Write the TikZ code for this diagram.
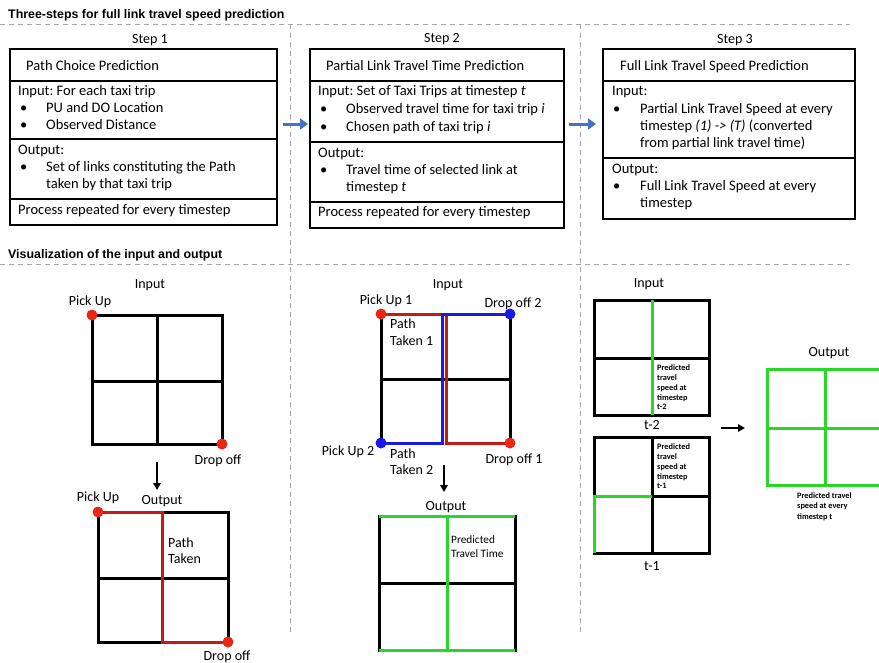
\documentclass[tikz,border=0pt]{standalone}
\usepackage{fontspec}
\setmainfont{Carlito}
\newfontfamily\headfont{Liberation Sans}
\usetikzlibrary{arrows.meta}
\frenchspacing

\definecolor{dotred}{RGB}{232,40,20}
\definecolor{pathred}{RGB}{200,25,25}
\definecolor{pathblue}{RGB}{25,25,225}
\definecolor{linkgreen}{RGB}{40,215,40}
\definecolor{flowblue}{RGB}{68,114,196}

\begin{document}
\begin{tikzpicture}[x=1pt, y=-1pt,
  txt/.style={anchor=base west, inner sep=0pt, font=\fontsize{14.5}{17}\selectfont},
  mid/.style={anchor=base, inner sep=0pt, font=\fontsize{14}{17}\selectfont},
  lbl/.style={anchor=base west, inner sep=0pt, font=\fontsize{14}{17}\selectfont},
  head/.style={anchor=base west, inner sep=0pt, font=\headfont\bfseries\fontsize{12.4}{15}\selectfont},
  tiny/.style={anchor=base west, inner sep=0pt, font=\bfseries\fontsize{8.3}{10}\selectfont},
  small/.style={anchor=base west, inner sep=0pt, font=\fontsize{11.3}{13}\selectfont},
  sep/.style={gray!70, line width=1pt, dash pattern=on 5pt off 4pt},
  box/.style={draw, line width=1.8pt},
  grid/.style={line width=3pt, line cap=rect},
  dot/.style={circle, fill, inner sep=0pt, minimum size=11pt},
  flow/.style={flowblue, line width=3pt, -{Triangle[length=8pt,width=11pt]}},
  down/.style={line width=2pt, -{Triangle[length=7pt,width=7.5pt]}}]
\useasboundingbox (0,0) rectangle (879,662);

% section headings and separators
\node[head] (h1) at (8,18) {Three-steps for full link travel speed prediction};
\node[head] (h2) at (8,258) {Visualization of the input and output};
\draw[sep] (0,24) -- (850,24);
\draw[sep] (0,264) -- (850,264);
\draw[sep] (290,24) -- (290,632);
\draw[sep] (580,24) -- (580,632);

% step 1
\node[mid] (st1) at (150,43) {Step 1};
\draw[box] (10,49) rectangle (277,225);
\draw[box] (10,81) -- (277,81) (10,139) -- (277,139) (10,199) -- (277,199);
\node[txt] (s1a) at (26,70) {Path Choice Prediction};
\node[txt] (s1b) at (18,95) {Input: For each taxi trip};
\node[txt] (s1c) at (20,112) {\textbullet};
\node[txt] (s1d) at (46,112) {PU and DO Location};
\node[txt] (s1e) at (20,129) {\textbullet};
\node[txt] (s1f) at (46,129) {Observed Distance};
\node[txt] (s1g) at (18,154) {Output:};
\node[txt] (s1h) at (20,171) {\textbullet};
\node[txt] (s1i) at (46,171) {Set of links constituting the Path};
\node[txt] (s1j) at (46,188) {taken by that taxi trip};
\node[txt] (s1k) at (18,214) {Process repeated for every timestep};

% step 2
\node[mid] (st2) at (442,42) {Step 2};
\draw[box] (310,49) rectangle (564,228);
\draw[box] (310,81) -- (564,81) (310,142) -- (564,142) (310,202) -- (564,202);
\node[txt] (s2a) at (326,70) {Partial Link Travel Time Prediction};
\node[txt] (s2b) at (318,95) {Input: Set of Taxi Trips at timestep \textit{t}};
\node[txt] (s2c) at (320,113) {\textbullet};
\node[txt] (s2d) at (346,113) {Observed travel time for taxi trip \textit{i}};
\node[txt] (s2e) at (320,131) {\textbullet};
\node[txt] (s2f) at (346,131) {Chosen path of taxi trip \textit{i}};
\node[txt] (s2g) at (318,157) {Output:};
\node[txt] (s2h) at (320,174) {\textbullet};
\node[txt] (s2i) at (346,174) {Travel time of selected link at};
\node[txt] (s2j) at (346,191) {timestep \textit{t}};
\node[txt] (s2k) at (318,216) {Process repeated for every timestep};

% step 3
\node[mid] (st3) at (735,43) {Step 3};
\draw[box] (603,49) rectangle (855,219);
\draw[box] (603,81) -- (855,81) (603,158) -- (855,158);
\node[txt] (s3a) at (620,70) {Full Link Travel Speed Prediction};
\node[txt] (s3b) at (612,95) {Input:};
\node[txt] (s3c) at (613,113) {\textbullet};
\node[txt] (s3d) at (640,113) {Partial Link Travel Speed at every};
\node[txt] (s3e) at (640,130) {timestep \textit{(1) -> (T)} (converted};
\node[txt] (s3f) at (640,147) {from partial link travel time)};
\node[txt] (s3g) at (612,173) {Output:};
\node[txt] (s3h) at (613,190) {\textbullet};
\node[txt] (s3i) at (640,190) {Full Link Travel Speed at every};
\node[txt] (s3j) at (640,207) {timestep};

\coordinate (f1) at (283,124);
\coordinate (f2) at (308,124);
\coordinate (f3) at (569,124);
\coordinate (f4) at (596,124);
\draw[flow] (f1) -- (f2);
\draw[flow] (f3) -- (f4);

% panel 1: single trip
\node[mid] (in1) at (150,288) {Input};
\draw[grid] (92,315) rectangle (222,444);
\draw[grid] (157,315) -- (157,444) (92,381) -- (222,381);
\node[dot, dotred] (pu1) at (92,315) {};
\node[dot, dotred] (do1) at (222,444) {};
\node[mid] (pul1) at (90,305) {Pick Up};
\node[mid] (dol1) at (218,464) {Drop off};
\coordinate (d1a) at (157,462);
\coordinate (d1b) at (157,490);
\draw[down] (d1a) -- (d1b);
\node[mid] (pul2) at (98,501) {Pick Up};
\node[mid] (out1) at (162,504) {Output};
\draw[grid] (98,512) -- (98,642) (228,512) -- (228,642)
  (162,512) -- (228,512) (98,642) -- (162,642) (98,578) -- (228,578);
\draw[grid, pathred, line cap=butt] (98,512) -- (162,512) -- (162,642) -- (228,642);
\node[dot, dotred] (pu2) at (98,512) {};
\node[dot, dotred] (do2) at (228,642) {};
\node[lbl] (pt1) at (168,547) {Path};
\node[lbl] (pt2) at (168,563) {Taken};
\node[mid] (dol2) at (227,660) {Drop off};

% panel 2: two trips
\node[mid] (in2) at (448,288) {Input};
\draw[grid] (381,314) -- (381,443) (510,314) -- (510,443) (381,379) -- (510,379);
\draw[grid, pathred, line cap=butt] (381,314) -- (446,314) -- (446,443) -- (510,443);
\draw[grid, pathblue, line cap=butt] (381,443) -- (442,443) -- (442,314) -- (510,314);
\node[dot, dotred] (pa1) at (381,314) {};
\node[dot, pathblue] (pb2) at (510,314) {};
\node[dot, pathblue] (pa2) at (381,443) {};
\node[dot, dotred] (pb1) at (510,443) {};
\node[mid] (pal1) at (386,304) {Pick Up 1};
\node[mid] (pbl2) at (513,307) {Drop off 2};
\node[lbl] (pk1a) at (390,328) {Path};
\node[lbl] (pk1b) at (390,345) {Taken 1};
\node[mid] (pal2) at (348,455) {Pick Up 2};
\node[lbl] (pk2a) at (390,458) {Path};
\node[lbl] (pk2b) at (390,474) {Taken 2};
\node[mid] (pbl1) at (514,463) {Drop off 1};
\coordinate (d2a) at (444,465);
\coordinate (d2b) at (444,492);
\draw[down] (d2a) -- (d2b);
\node[mid] (out2) at (446,510) {Output};
\draw[grid] (379,516) -- (379,650) (515,516) -- (515,650) (379,583) -- (515,583);
\draw[grid, linkgreen, line cap=butt] (379,516) -- (515,516) (379,650) -- (515,650) (447,516) -- (447,650);
\node[small] (ptt1) at (451,543) {Predicted};
\node[small] (ptt2) at (451,557) {Travel Time};

% panel 3: speeds over timesteps
\node[mid] (in3) at (649,287) {Input};
\draw[grid] (594,300) rectangle (709,415);
\draw[grid] (594,358) -- (709,358);
\draw[grid, linkgreen, line cap=butt] (652,300) -- (652,415);
\node[tiny] (ta1) at (657,370) {Predicted};
\node[tiny] (ta2) at (657,380) {travel};
\node[tiny] (ta3) at (657,390) {speed at};
\node[tiny] (ta4) at (657,400) {timestep};
\node[tiny] (ta5) at (657,409) {t-2};
\node[mid] (tm2) at (652,429) {t-2};
\draw[grid] (594,496) -- (594,437) -- (709,437) -- (709,553) -- (594,553)
  (652,437) -- (652,553) (652,496) -- (709,496);
\draw[grid, linkgreen, line cap=butt] (652,496) -- (594,496) -- (594,553);
\node[tiny] (tb1) at (657,449) {Predicted};
\node[tiny] (tb2) at (657,459) {travel};
\node[tiny] (tb3) at (657,469) {speed at};
\node[tiny] (tb4) at (657,479) {timestep};
\node[tiny] (tb5) at (657,488) {t-1};
\node[mid] (tm1) at (652,570) {t-1};
\coordinate (r1) at (721,428);
\coordinate (r2) at (745,428);
\draw[down] (r1) -- (r2);
\node[mid] (out3) at (829,356) {Output};
\draw[grid, linkgreen] (881,369) -- (767,369) -- (767,485) -- (881,485)
  (825,369) -- (825,485) (767,428) -- (881,428);
\node[tiny] (tc1) at (797,498) {Predicted travel};
\node[tiny] (tc2) at (797,508) {speed at every};
\node[tiny] (tc3) at (797,519) {timestep t};
\end{tikzpicture}
\end{document}
